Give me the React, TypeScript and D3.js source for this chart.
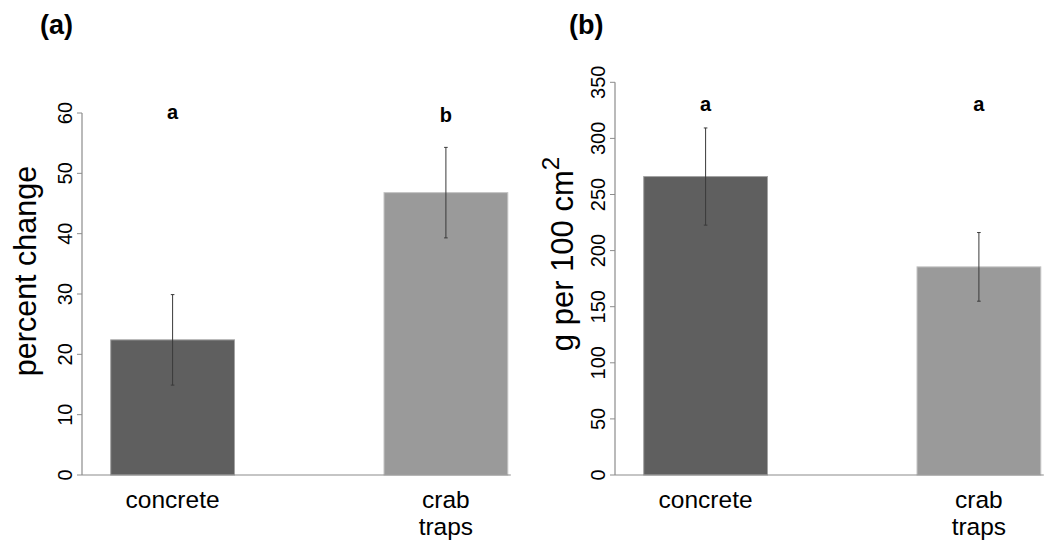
import React from "react";
import * as d3 from "d3";

const categories = ["concrete", "crab traps"];
const barColors = ["#5f5f5f", "#9a9a9a"];
const borderColors = ["#a3a3a3", "#c4c4c4"];

const panelAMeans = [22.4, 46.8];
const panelASE = [7.5, 7.5];
const panelALetters = ["a", "b"];
const panelATicks = [0, 10, 20, 30, 40, 50, 60];

const panelBMeans = [266, 185.5];
const panelBSE = [43.3, 30.6];
const panelBLetters = ["a", "a"];
const panelBTicks = [0, 50, 100, 150, 200, 250, 300, 350];

const FONT = "'Liberation Sans', Arial, sans-serif";

type PanelProps = {
  tag: string;
  means: number[];
  se: number[];
  letters: string[];
  ticks: number[];
  yMax: number;
  axisX: number;
  yTop: number;
  letterY: number[];
  yLabel: React.ReactNode;
  tagX: number;
};

function Panel(p: PanelProps) {
  const y0 = 475;
  const y = d3.scaleLinear().domain([0, p.yMax]).range([y0, p.yTop]);
  const x = d3
    .scaleBand<string>()
    .domain(categories)
    .range([p.axisX, p.axisX + 454.5])
    .paddingInner(0.547)
    .paddingOuter(0.105);
  const bw = x.bandwidth();
  const lastRight = (x(categories[categories.length - 1]) ?? 0) + bw;
  return (
    <g>
      <text x={p.tagX} y={34} fontFamily={FONT} fontWeight="bold" fontSize={27} fill="#000">
        {p.tag}
      </text>
      {categories.map((c, i) => (
        <rect
          key={c}
          x={x(c)}
          y={y(p.means[i])}
          width={bw}
          height={y0 - y(p.means[i])}
          fill={barColors[i]}
          stroke={borderColors[i]}
          strokeWidth={1}
        />
      ))}
      {categories.map((c, i) => {
        const cx = (x(c) ?? 0) + bw / 2;
        const hi = y(p.means[i] + p.se[i]);
        const lo = y(p.means[i] - p.se[i]);
        return (
          <g key={c} stroke="#3a3a3a" strokeWidth={1}>
            <line x1={cx} x2={cx} y1={hi} y2={lo} />
            <line x1={cx - 1.8} x2={cx + 1.8} y1={hi} y2={hi} />
            <line x1={cx - 1.8} x2={cx + 1.8} y1={lo} y2={lo} />
          </g>
        );
      })}
      {categories.map((c, i) => (
        <text
          key={c}
          x={(x(c) ?? 0) + bw / 2}
          y={p.letterY[i]}
          textAnchor="middle"
          fontFamily={FONT}
          fontWeight="bold"
          fontSize={20}
          fill="#000"
        >
          {p.letters[i]}
        </text>
      ))}
      <line x1={p.axisX} x2={lastRight + 3} y1={y0} y2={y0} stroke="#8c8c8c" strokeWidth={1.2} />
      <line x1={p.axisX} x2={p.axisX} y1={y(0)} y2={y(p.yMax)} stroke="#8c8c8c" strokeWidth={1.2} />
      {p.ticks.map((t) => (
        <g key={t}>
          <line x1={p.axisX - 5} x2={p.axisX} y1={y(t)} y2={y(t)} stroke="#8c8c8c" strokeWidth={1} />
          <text
            transform={`translate(${p.axisX - 10.5},${y(t)}) rotate(-90)`}
            textAnchor="middle"
            fontFamily={FONT}
            fontSize={20}
            fill="#000"
          >
            {t}
          </text>
        </g>
      ))}
      {categories.map((c) => {
        const cx = (x(c) ?? 0) + bw / 2;
        const lines = c.split(" ");
        return (
          <text key={c} textAnchor="middle" fontFamily={FONT} fontSize={24.5} fill="#000">
            {lines.map((l, j) => (
              <tspan key={j} x={cx} y={508 + j * 27}>
                {l}
              </tspan>
            ))}
          </text>
        );
      })}
      {p.yLabel}
    </g>
  );
}

export default function App() {
  return (
    <svg
      width={1050}
      height={542}
      style={{ position: "absolute", left: 0, top: 0, background: "#fff" }}
    >
      <rect width={1050} height={542} fill="#fff" />
      <Panel
        tag="(a)"
        tagX={40}
        means={panelAMeans}
        se={panelASE}
        letters={panelALetters}
        ticks={panelATicks}
        yMax={60}
        axisX={82}
        yTop={113}
        letterY={[118.5, 121.5]}
        yLabel={
          <text
            transform="translate(36,271) rotate(-90)"
            textAnchor="middle"
            fontFamily={FONT}
            fontSize={30.5}
            fill="#000"
          >
            percent change
          </text>
        }
      />
      <Panel
        tag="(b)"
        tagX={569}
        means={panelBMeans}
        se={panelBSE}
        letters={panelBLetters}
        ticks={panelBTicks}
        yMax={350}
        axisX={615}
        yTop={82.3}
        letterY={[111, 111]}
        yLabel={
          <text
            transform="translate(573,254) rotate(-90)"
            textAnchor="middle"
            fontFamily={FONT}
            fontSize={31}
            fill="#000"
          >
            g per 100 cm
            <tspan fontSize={24} dy={-14}>
              2
            </tspan>
          </text>
        }
      />
    </svg>
  );
}
